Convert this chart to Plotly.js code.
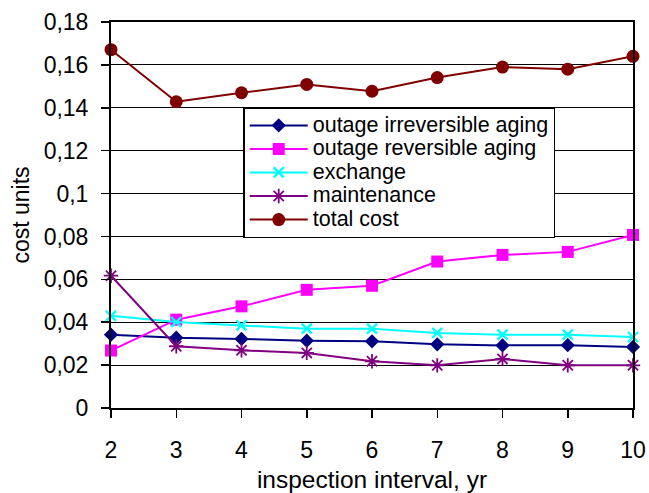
<!DOCTYPE html>
<html>
<head>
<meta charset="utf-8">
<script src="https://cdn.plot.ly/plotly-3.0.1.min.js"></script>
<style>html,body{margin:0;padding:0;background:#fff;}#chart{width:649px;height:493px;}</style>
</head>
<body>
<div id="chart"></div>
<script>
var intervals = [2, 3, 4, 5, 6, 7, 8, 9, 10];
var outageIrreversible = [0.0342, 0.0328, 0.0322, 0.0314, 0.0311, 0.0297, 0.0292, 0.0293, 0.0285];
var outageReversible = [0.0268, 0.0412, 0.0474, 0.0551, 0.0570, 0.0683, 0.0714, 0.0728, 0.0807];
var exchange = [0.0430, 0.0401, 0.0385, 0.0370, 0.0370, 0.0350, 0.0342, 0.0342, 0.0331];
var maintenance = [0.0617, 0.0288, 0.0269, 0.0257, 0.0218, 0.0199, 0.0229, 0.0199, 0.0199];
var totalCost = [0.1671, 0.1428, 0.1470, 0.1509, 0.1477, 0.1541, 0.1590, 0.1580, 0.1640];
var seriesNames = ['outage irreversible aging', 'outage reversible aging', 'exchange', 'maintenance', 'total cost'];
var yTickValues = [0, 0.02, 0.04, 0.06, 0.08, 0.1, 0.12, 0.14, 0.16, 0.18];
var yTickLabels = ['0', '0,02', '0,04', '0,06', '0,08', '0,1', '0,12', '0,14', '0,16', '0,18'];
var xTickValues = [2, 3, 4, 5, 6, 7, 8, 9, 10];

var FONT = '"Liberation Sans", Arial, Helvetica, sans-serif';

function trace(y, name, color, symbol, size, mline) {
  return {
    x: intervals, y: y,
    name: '<span style="font-size:21.5px">' + name + '</span>',
    type: 'scatter', mode: 'lines+markers',
    cliponaxis: false,
    line: {color: color, width: 2},
    marker: {color: color, symbol: symbol, size: size, line: {color: color, width: mline}}
  };
}

var data = [
  trace(outageIrreversible, seriesNames[0], '#000080', 'diamond', 11, 0),
  trace(outageReversible, seriesNames[1], '#FF00FF', 'square', 12, 0),
  trace(exchange, seriesNames[2], '#00FFFF', 'x-thin-open', 10, 2.4),
  trace(maintenance, seriesNames[3], '#800080', 'asterisk-open', 12, 1.8),
  trace(totalCost, seriesNames[4], '#800000', 'circle', 13, 0)
];

var layout = {
  width: 649, height: 493,
  margin: {l: 111, r: 16, t: 22, b: 85, pad: 0},
  paper_bgcolor: '#ffffff', plot_bgcolor: '#ffffff',
  font: {family: FONT, size: 23, color: '#000000'},
  showlegend: true,
  legend: {
    x: 0.2533, y: 0.7795, xanchor: 'left', yanchor: 'top',
    bgcolor: '#ffffff', bordercolor: '#000000', borderwidth: 1.5,
    font: {family: FONT, size: 15.8, color: '#000000'},
    tracegroupgap: 0, itemwidth: 58
  },
  xaxis: {
    range: [2, 10], tickvals: xTickValues, ticktext: xTickValues.map(String),
    showgrid: false, zeroline: false,
    showline: true, linecolor: '#000000', linewidth: 2, mirror: true,
    ticks: 'outside', ticklen: 8, tickwidth: 1.5, tickcolor: '#000000',
    ticklabelstandoff: 12,
    tickfont: {family: FONT, size: 23, color: '#000000'},
    title: {text: 'inspection interval, yr', font: {family: FONT, size: 24.5, color: '#000000'}, standoff: 18}
  },
  yaxis: {
    range: [0, 0.18], tickvals: yTickValues, ticktext: yTickLabels,
    showgrid: true, gridcolor: '#000000', gridwidth: 1.2, zeroline: false,
    showline: true, linecolor: '#000000', linewidth: 2, mirror: true,
    ticks: 'outside', ticklen: 8, tickwidth: 1.5, tickcolor: '#000000',
    ticklabelstandoff: 8,
    tickfont: {family: FONT, size: 23, color: '#000000'},
    title: {text: 'cost units', font: {family: FONT, size: 23, color: '#000000'}, standoff: 8}
  }
};

Plotly.newPlot('chart', data, layout, {displayModeBar: false, staticPlot: true});
</script>
</body>
</html>
